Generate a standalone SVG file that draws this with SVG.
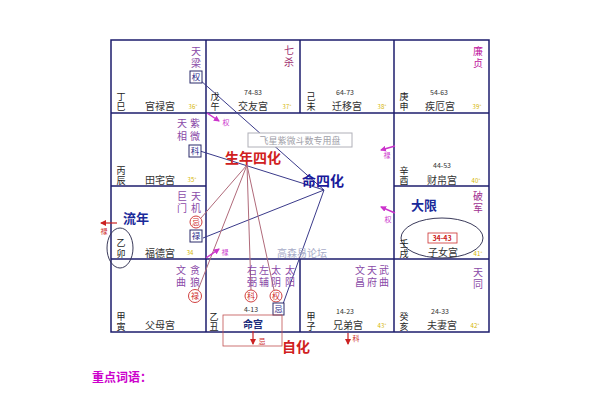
<svg xmlns="http://www.w3.org/2000/svg" width="600" height="400" viewBox="0 0 600 400">
<style>
text{font-family:"Noto Sans CJK SC","Noto Sans",sans-serif;}
.v{writing-mode:vertical-rl;letter-spacing:1px}
.v2{writing-mode:vertical-rl;letter-spacing:2px}
.v3{writing-mode:vertical-rl;letter-spacing:3px}
.grid{fill:none;stroke:#1c1c6c;stroke-width:1.5}
.st{font-size:9px;fill:#222}
.pn{font-size:10px;fill:#333;text-anchor:middle}
.age{font-size:7px;fill:#333;text-anchor:middle}
.deg{font-size:6px;fill:#d4b400;text-anchor:middle}
.star{font-size:10px;fill:#8a4aa8}
.bx{fill:#fff;stroke:#2a2a6a;stroke-width:1}
.bxt{font-size:8.5px;fill:#2a2a8a;text-anchor:middle}
.ci{fill:#fff;stroke:#d04040;stroke-width:1}
.cit{font-size:8px;fill:#d03030;text-anchor:middle}
.blue{stroke:#3a3a8a;stroke-width:1;fill:none}
.redl{stroke:#b06a7a;stroke-width:1;fill:none}
.mag{stroke:#cc33cc;stroke-width:1.5;fill:none}
.magt{font-size:7px;fill:#cc33cc;text-anchor:middle}
.red{stroke:#cc2222;stroke-width:1.2;fill:none}
.redt{font-size:7px;fill:#cc2222;text-anchor:middle}
</style>
<defs>
<marker id="mh" markerWidth="6" markerHeight="6" refX="5" refY="3" orient="auto" markerUnits="userSpaceOnUse"><path d="M0,0 L6,3 L0,6 z" fill="#cc33cc"/></marker>
<marker id="rh" markerWidth="6" markerHeight="6" refX="5" refY="3" orient="auto" markerUnits="userSpaceOnUse"><path d="M0,0 L6,3 L0,6 z" fill="#cc2222"/></marker>
</defs>
<rect width="600" height="400" fill="#fff"/>

<g id="grid">
<rect class="grid" x="111" y="40" width="378" height="292"/>
<line class="grid" x1="111" y1="113" x2="489" y2="113"/>
<line class="grid" x1="111" y1="259" x2="489" y2="259"/>
<line class="grid" x1="111" y1="186" x2="206" y2="186"/>
<line class="grid" x1="394" y1="186" x2="489" y2="186"/>
<line class="grid" x1="206" y1="40" x2="206" y2="332"/>
<line class="grid" x1="394" y1="40" x2="394" y2="332"/>
<line class="grid" x1="300" y1="40" x2="300" y2="113"/>
<line class="grid" x1="300" y1="259" x2="300" y2="332"/>
</g>

<g id="connectors">
<line class="blue" x1="200" y1="80" x2="324" y2="190"/>
<line class="blue" x1="200" y1="151" x2="324" y2="190"/>
<line class="blue" x1="203" y1="238" x2="324" y2="190"/>
<line class="blue" x1="324" y1="190" x2="283" y2="304"/>
<line class="redl" x1="247" y1="165" x2="201" y2="218"/>
<line class="redl" x1="247" y1="165" x2="198" y2="290"/>
<line class="redl" x1="247" y1="165" x2="251" y2="290"/>
<line class="redl" x1="247" y1="165" x2="274" y2="290"/>
<line class="mag" x1="207" y1="113" x2="219" y2="121" marker-end="url(#mh)"/>
<line class="mag" x1="395" y1="146" x2="381" y2="150" marker-end="url(#mh)"/>
<line class="mag" x1="395" y1="213" x2="381" y2="207" marker-end="url(#mh)"/>
<line class="mag" x1="206" y1="258" x2="219" y2="249" marker-end="url(#mh)"/>
<line class="red" x1="117" y1="223" x2="101" y2="223" marker-end="url(#rh)"/>
<line class="red" x1="253" y1="331" x2="253" y2="344" marker-end="url(#rh)"/>
<line class="red" x1="348" y1="333" x2="348" y2="344" marker-end="url(#rh)"/>
<text class="magt" x="226" y="125">权</text>
<text class="magt" x="387" y="158">禄</text>
<text class="magt" x="388" y="222">权</text>
<text class="magt" x="225" y="255">禄</text>
<text class="redt" x="104" y="234">禄</text>
<text class="redt" x="262" y="344">忌</text>
<text class="redt" x="356" y="341">科</text>
</g>

<g id="center">
<rect x="248" y="133" width="104" height="14" fill="#fff" stroke="#b0b0b8" stroke-width="1"/>
<text x="300" y="144" font-size="9" fill="#a0a0a8" text-anchor="middle">飞星紫微斗数专用盘</text>
<text x="253" y="163" font-size="14" font-weight="bold" fill="#d02020" text-anchor="middle">生年四化</text>
<text x="323" y="186" font-size="14" font-weight="bold" fill="#1a1a9a" text-anchor="middle">命四化</text>
<text x="302" y="257" font-size="10" fill="#a8acc8" text-anchor="middle">高森易论坛</text>
</g>

<g id="p-si">
<text class="star v2" x="196" y="46">天梁</text>
<rect class="bx" x="190" y="71" width="12" height="12"/><text class="bxt" x="196" y="80">权</text>
<text class="st v" x="121" y="92">丁巳</text>
<text class="pn" x="160" y="110">官禄宫</text>
<text class="deg" x="193" y="109">36°</text>
</g>

<g id="p-wu">
<text class="star v2" x="289" y="45" style="fill:#a03070">七杀</text>
<text class="st v" x="215" y="92">戊午</text>
<text class="age" x="253" y="95">74-83</text>
<text class="pn" x="253" y="110">交友宫</text>
<text class="deg" x="287" y="109">37°</text>
</g>

<g id="p-wei">
<text class="st v" x="311" y="92">己未</text>
<text class="age" x="345" y="95">64-73</text>
<text class="pn" x="347" y="110">迁移宫</text>
<text class="deg" x="382" y="109">38°</text>
</g>

<g id="p-shen">
<text class="star v2" x="478" y="46" style="fill:#c020a0">廉贞</text>
<text class="st v" x="404" y="92">庚申</text>
<text class="age" x="439" y="95">54-63</text>
<text class="pn" x="440" y="110">疾厄宫</text>
<text class="deg" x="477" y="109">39°</text>
</g>

<g id="p-chen">
<text class="star v3" x="182" y="118">天相</text>
<text class="star v3" x="195" y="118">紫微</text>
<rect class="bx" x="189" y="145" width="12" height="12"/><text class="bxt" x="195" y="154">科</text>
<text class="st v" x="121" y="166">丙辰</text>
<text class="pn" x="160" y="184">田宅宫</text>
<text class="deg" x="192" y="182">35°</text>
</g>

<g id="p-you">
<text class="st v" x="404" y="166">辛酉</text>
<text class="age" x="442" y="168">44-53</text>
<text class="pn" x="442" y="184">财帛宫</text>
<text class="deg" x="476" y="183">40°</text>
</g>

<g id="p-mao">
<text class="star v2" x="182" y="191">巨门</text>
<text class="star v2" x="196" y="191">天机</text>
<circle class="ci" cx="196" cy="222" r="6"/><text class="cit" x="196" y="225">忌</text>
<rect class="bx" x="190" y="230" width="12" height="12"/><text class="bxt" x="196" y="239">禄</text>
<ellipse cx="120" cy="248" rx="13" ry="20" fill="none" stroke="#3a3a5a" stroke-width="1"/>
<text class="st v2" x="121" y="238">乙卯</text>
<text class="pn" x="160" y="257">福德宫</text>
<text class="deg" x="190" y="255">34</text>
<text x="136" y="223" font-size="13" font-weight="bold" fill="#1a2a9a" text-anchor="middle">流年</text>
</g>

<g id="p-xu">
<text x="424" y="210" font-size="13" font-weight="bold" fill="#1a2a9a" text-anchor="middle">大限</text>
<text class="star v2" x="478" y="191" style="fill:#a03090">破军</text>
<ellipse cx="442" cy="238" rx="41" ry="20" fill="none" stroke="#3a3a5a" stroke-width="1"/>
<rect x="428" y="233" width="29" height="10" fill="#fff" stroke="#cc3030" stroke-width="0.8"/>
<text x="442" y="241" font-size="7" font-weight="bold" fill="#cc2020" text-anchor="middle">34-43</text>
<text class="st v" x="404" y="239">壬戌</text>
<text class="pn" x="443" y="256">子女宫</text>
<text class="deg" x="478" y="256">41°</text>
</g>

<g id="p-yin">
<text class="star v2" x="181" y="265">文曲</text>
<text class="star v2" x="195" y="265">贪狼</text>
<circle class="ci" cx="195" cy="296" r="6.5"/><text class="cit" x="195" y="299">禄</text>
<text class="st v" x="121" y="312">甲寅</text>
<text class="pn" x="160" y="329">父母宫</text>
</g>

<g id="p-chou">
<text class="star v2" x="252" y="265">右弼</text>
<text class="star v2" x="264" y="265">左辅</text>
<text class="star v2" x="276" y="265">太阴</text>
<text class="star v2" x="290" y="265">太阳</text>
<circle class="ci" cx="251" cy="296" r="6"/><text class="cit" x="251" y="299">科</text>
<circle class="ci" cx="276" cy="296" r="6"/><text class="cit" x="276" y="299">权</text>
<rect class="bx" x="273" y="303" width="11" height="12"/><text class="bxt" x="278.5" y="312">忌</text>
<text class="st v" x="214" y="312">乙丑</text>
<text class="age" x="251" y="312">4-13</text>
<rect x="223" y="315" width="59" height="31" fill="none" stroke="#c05050" stroke-width="0.8"/>
<text x="253" y="328" font-size="10" font-weight="bold" fill="#1a2a7a" text-anchor="middle">命宫</text>
<text x="296" y="352" font-size="14" font-weight="bold" fill="#d02020" text-anchor="middle">自化</text>
</g>

<g id="p-zi">
<text class="star v2" x="360" y="265">文昌</text>
<text class="star v2" x="372" y="265">天府</text>
<text class="star v2" x="384" y="265">武曲</text>
<text class="st v" x="311" y="312">甲子</text>
<text class="age" x="345" y="314">14-23</text>
<text class="pn" x="348" y="329">兄弟宫</text>
<text class="deg" x="382" y="328">43°</text>
</g>

<g id="p-hai">
<text class="star v2" x="478" y="267">天同</text>
<text class="st v" x="404" y="312">癸亥</text>
<text class="age" x="440" y="314">24-33</text>
<text class="pn" x="442" y="329">夫妻宫</text>
<text class="deg" x="475" y="328">42°</text>
</g>

<text x="92" y="382" font-size="12" font-weight="bold" fill="#cc00cc">重点词语：</text>
</svg>
